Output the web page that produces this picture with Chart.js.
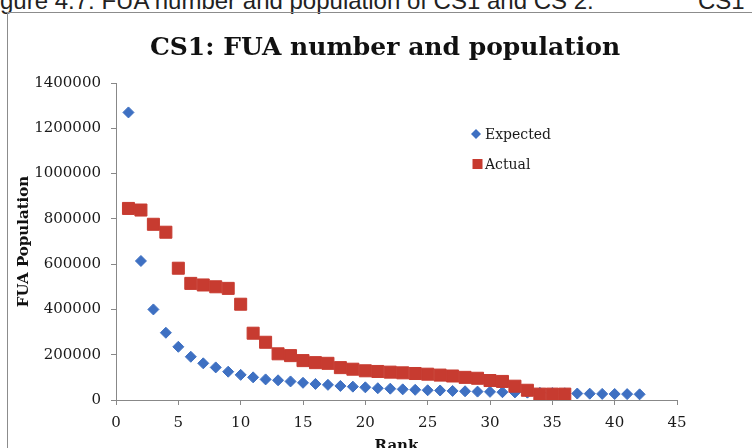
<!DOCTYPE html>
<html>
<head>
<meta charset="utf-8">
<script src="https://cdn.jsdelivr.net/npm/chart.js@4/dist/chart.umd.min.js"></script>
<style>
  html, body { margin: 0; padding: 0; background: #fff; overflow: hidden; width: 752px; height: 448px; position: relative; }
  .cap { position: absolute; top: -13px; font: 24px "Liberation Sans", Arial, sans-serif; color: #222; white-space: pre; line-height: 28px; }
  #caption { left: -20px; }
  #caption2 { left: 698px; }
  #frame { position: absolute; left: 7px; top: 12px; width: 800px; height: 500px; border: 1px solid #8c8c8c; }
  #wrap { position: absolute; left: 0; top: 0; width: 752px; height: 458px; }
</style>
</head>
<body>
<div id="caption" class="cap">Figure 4.7: FUA number and population of CS1 and CS 2:</div>
<div id="caption2" class="cap">CS1</div>
<div id="frame"></div>
<div id="wrap"><canvas id="c" width="752" height="458"></canvas></div>
<script>
// Rank-size data for the functional urban areas
const expectedRank = [1, 2, 3, 4, 5, 6, 7, 8, 9, 10, 11, 12, 13, 14, 15, 16, 17, 18, 19, 20, 21,
                      22, 23, 24, 25, 26, 27, 28, 29, 30, 31, 32, 33, 34, 35, 36, 37, 38, 39, 40, 41, 42];
const expectedPop = [1270000, 614000, 400000, 297000, 235000, 191000, 162000, 144000, 125000, 111000,
                     100000, 91000, 87000, 82000, 76000, 71000, 67000, 62000, 59000, 56000,
                     52000, 50000, 47000, 45000, 43000, 42000, 40000, 38500, 37000, 36000,
                     34500, 33500, 32500, 31500, 30500, 29500, 28500, 28000, 27000, 26500, 26000, 25000];
const actualRank = [1, 2, 3, 4, 5, 6, 7, 8, 9, 10, 11, 12, 13, 14, 15, 16, 17, 18,
                    19, 20, 21, 22, 23, 24, 25, 26, 27, 28, 29, 30, 31, 32, 33, 34, 35, 36];
const actualPop = [846000, 839000, 776000, 741000, 582000, 515000, 508000, 500000, 493000, 423000,
                   295000, 255000, 204000, 196000, 174000, 165000, 162000, 143000, 136000, 129000,
                   126000, 123000, 120000, 117000, 114000, 110000, 106000, 100000, 96000, 86000,
                   82000, 61000, 43000, 26000, 26000, 26000];
const xTickValues = [0, 5, 10, 15, 20, 25, 30, 35, 40, 45];
const yTickValues = [0, 200000, 400000, 600000, 800000, 1000000, 1200000, 1400000];

const BLUE = '#3E70C2';
const RED = '#C73B30';
const SERIF = "'DejaVu Serif', 'Liberation Serif', serif";

// Legend drawn inside the plot area
const innerLegend = {
  id: 'innerLegend',
  afterDraw(chart) {
    const ctx = chart.ctx;
    const items = [
      { ds: chart.data.datasets[0], x: 476, y: 134 },
      { ds: chart.data.datasets[1], x: 477.5, y: 164 }
    ];
    ctx.save();
    ctx.font = '14px ' + SERIF;
    ctx.textBaseline = 'middle';
    ctx.fillStyle = '#1a1a1a';
    items.forEach(it => {
      ctx.save();
      ctx.fillStyle = it.ds.backgroundColor;
      ctx.beginPath();
      if (it.ds.pointStyle === 'rectRot') {
        const r = 5;
        ctx.moveTo(it.x - r, it.y);
        ctx.lineTo(it.x, it.y - r);
        ctx.lineTo(it.x + r, it.y);
        ctx.lineTo(it.x, it.y + r);
        ctx.closePath();
      } else {
        ctx.rect(it.x - 5, it.y - 5, 10, 10);
      }
      ctx.fill();
      ctx.restore();
      ctx.fillText(it.ds.label, 485, it.y + 1);
    });
    ctx.restore();
  }
};

new Chart(document.getElementById('c'), {
  type: 'scatter',
  data: {
    datasets: [
      {
        label: 'Expected',
        data: expectedRank.map((r, i) => ({ x: r, y: expectedPop[i] })),
        pointStyle: 'rectRot',
        pointRadius: 5.5,
        pointHoverRadius: 5.5,
        backgroundColor: BLUE,
        borderColor: BLUE,
        borderWidth: 1,
        order: 2
      },
      {
        label: 'Actual',
        data: actualRank.map((r, i) => ({ x: r, y: actualPop[i] })),
        pointStyle: 'rect',
        pointRadius: 8.5,
        pointHoverRadius: 8.5,
        backgroundColor: RED,
        borderColor: RED,
        borderWidth: 1,
        order: 1
      }
    ]
  },
  options: {
    responsive: false,
    animation: false,
    devicePixelRatio: 1,
    layout: { padding: { left: 18, right: 0, top: 0, bottom: 0 } },
    plugins: {
      legend: { display: false },
      tooltip: { enabled: false },
      title: {
        display: true,
        text: 'CS1: FUA number and population',
        color: '#111',
        font: { family: SERIF, size: 25, weight: 'bold', lineHeight: 1.2 },
        padding: { top: 33, bottom: 20 }
      }
    },
    scales: {
      x: {
        type: 'linear',
        min: 0,
        max: 45,
        afterFit(s) { s.height = 58; },
        afterBuildTicks(s) { s.ticks = xTickValues.map(v => ({ value: v })); },
        grid: { display: true, drawOnChartArea: false, drawTicks: true, tickLength: 5, color: '#888' },
        border: { display: true, color: '#888', width: 1 },
        ticks: { color: '#1a1a1a', padding: 9, font: { family: SERIF, size: 15 }, maxRotation: 0 },
        title: {
          display: true,
          text: 'Rank',
          color: '#111',
          font: { family: SERIF, size: 15, weight: 'bold', lineHeight: 1.2 },
          padding: { top: 3, bottom: 3 }
        }
      },
      y: {
        type: 'linear',
        min: 0,
        max: 1400000,
        afterFit(s) { s.width = 98; },
        afterBuildTicks(s) { s.ticks = yTickValues.map(v => ({ value: v })); },
        grid: { display: true, drawOnChartArea: false, drawTicks: true, tickLength: 5, color: '#888' },
        border: { display: true, color: '#888', width: 1 },
        ticks: { color: '#1a1a1a', padding: 10, font: { family: SERIF, size: 15 }, callback: v => String(v) },
        title: {
          display: true,
          text: 'FUA Population',
          color: '#111',
          font: { family: SERIF, size: 15, weight: 'bold', lineHeight: 1.2 },
          padding: { top: -3, bottom: -3 }
        }
      },
      // empty right-hand gutter so the plot ends at rank 45 while the title stays centred on the frame
      gutter: {
        type: 'linear',
        axis: 'y',
        position: 'right',
        display: true,
        afterFit(s) { s.width = 75; },
        grid: { display: false },
        border: { display: false },
        ticks: { display: false },
        title: { display: false }
      }
    }
  },
  plugins: [innerLegend]
});
</script>
</body>
</html>
